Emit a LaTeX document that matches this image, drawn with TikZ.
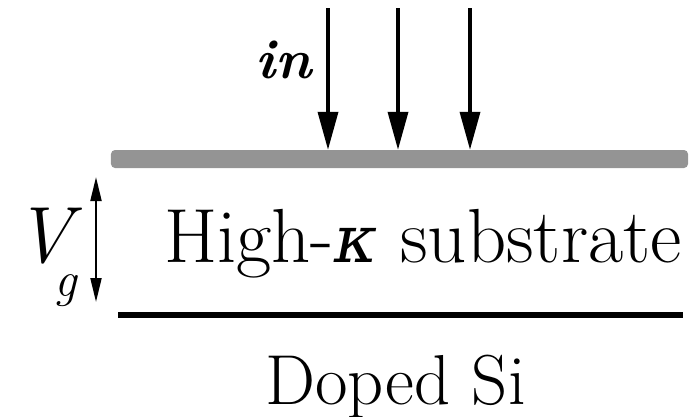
\documentclass[tikz,border=0pt]{standalone}
\usepackage{fontspec}
\newfontfamily\grk{DejaVu Serif}
\usetikzlibrary{arrows.meta}

\begin{document}
\begin{tikzpicture}[x=1bp, y=-1bp,
  lbl/.style={inner sep=0pt, anchor=base west, font=\fontsize{77}{80}\selectfont},
  plate/.style={rectangle, rounded corners=4bp, fill=black!42, draw=none,
                minimum width=577bp, minimum height=18bp, inner sep=0pt},
  ray/.style={line width=3.5bp, -{Triangle[length=38bp,width=20bp]}},
  bias/.style={line width=2bp, {Triangle[length=24bp,width=11bp]}-{Triangle[length=24bp,width=11bp]}},
  ground/.style={line width=6bp}
]
\useasboundingbox (0,0) rectangle (689,416);

\node[plate] (gate) at (399.5,159) {};
\foreach \x [count=\i] in {328,398,470}{
  \coordinate (ray\i) at (\x,8);
  \draw[ray] (ray\i) -- (ray\i |- gate.north);
}
\node[lbl, font=\fontsize{56}{60}\selectfont\bfseries\itshape] (in) at (255,78) {in};

\coordinate (vtop) at (96,177);
\coordinate (vbot) at (96,302);
\draw[bias] (vtop) -- (vbot);
\node[lbl, text depth=0pt, font=\fontsize{80}{84}\selectfont\itshape] (vg) at (14,262) {V};
\node[lbl, text height=22bp, font=\fontsize{50}{52}\selectfont\itshape] (sub) at (54,296) {g};

\node[lbl] (hk) at (164,262) {High-{\grk\itshape\fontsize{66}{70}\selectfont κ} substrate};

\coordinate (siL) at (118,315);
\coordinate (siR) at (683,315);
\draw[ground] (siL) -- (siR);

\node[lbl, font=\fontsize{71}{74}\selectfont] (si) at (265,404) {Doped Si};
\end{tikzpicture}
\end{document}
